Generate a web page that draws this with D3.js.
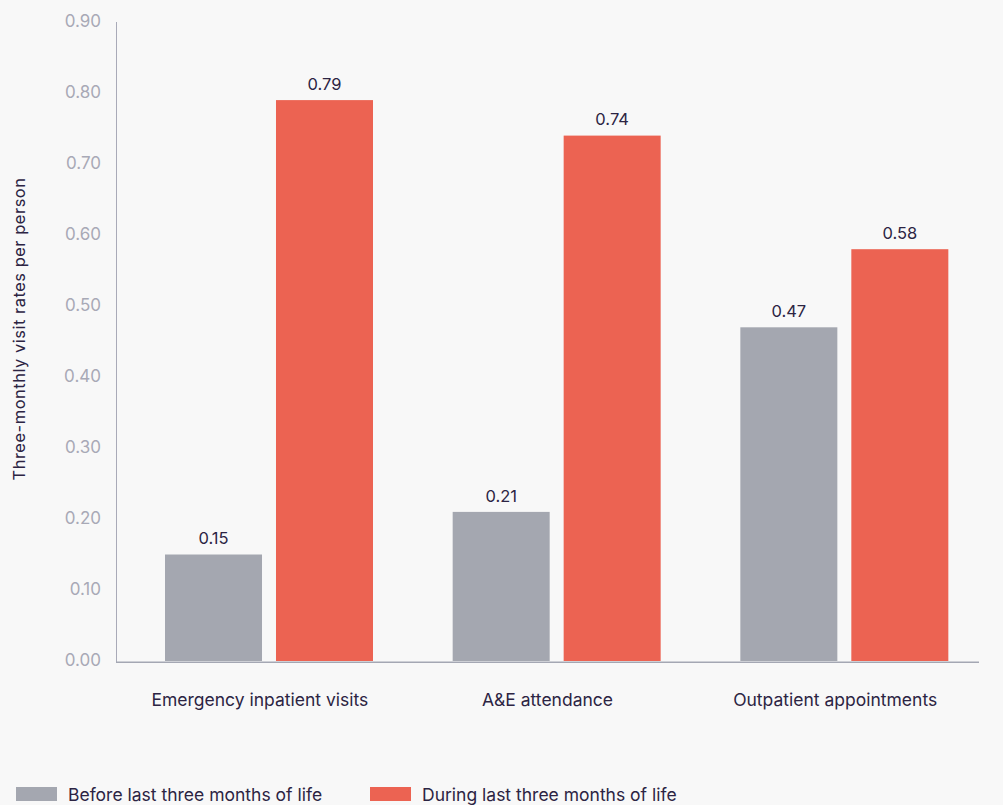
<!DOCTYPE html>
<html>
<head>
<meta charset="utf-8">
<script src="https://cdn.jsdelivr.net/npm/d3@7"></script>
<style>
  html, body { margin: 0; padding: 0; background: #f8f8f8; }
  svg { display: block; font-family: Inter, "Noto Sans", sans-serif; }
</style>
</head>
<body>
<svg id="chart" width="1003" height="805"></svg>
<script>
// Visit categories along the x axis
const categories = ["Emergency inpatient visits", "A&E attendance", "Outpatient appointments"];
// Series names (legend order)
const seriesNames = ["Before last three months of life", "During last three months of life"];
// Three-monthly visit rates per person
const beforeValues = [0.15, 0.21, 0.47];
const duringValues = [0.79, 0.74, 0.58];
// Y axis ticks
const yTicks = [0, 0.1, 0.2, 0.3, 0.4, 0.5, 0.6, 0.7, 0.8, 0.9];
const yTitle = "Three-monthly visit rates per person";

const colors = ["#a4a7b0", "#ec6352"];
const textDark = "#2c2443";
const tickGray = "#a8a9b6";

const rows = categories.map((c, i) => ({ category: c, values: [beforeValues[i], duringValues[i]] }));

const svg = d3.select("#chart");

const x0 = d3.scaleBand().domain(categories).range([116, 979]).paddingInner(0).paddingOuter(0);
const x1 = d3.scaleBand().domain(seriesNames).range([49, 257]).paddingInner(0.126).paddingOuter(0);
const y = d3.scaleLinear().domain([0, 0.9]).range([661, 22]);

// Y axis line
svg.append("line")
  .attr("x1", 116.5).attr("x2", 116.5)
  .attr("y1", y(0.9)).attr("y2", 662)
  .attr("stroke", "#a9aab8").attr("stroke-width", 1);

// Y tick labels
svg.append("g").selectAll("text")
  .data(yTicks)
  .join("text")
  .attr("x", 101)
  .attr("y", d => y(d) - 1)
  .attr("dy", "0.35em")
  .attr("text-anchor", "end")
  .attr("fill", tickGray)
  .attr("font-size", 17)
  .text(d => d3.format(".2f")(d));

// Bars
const groups = svg.append("g").selectAll("g")
  .data(rows)
  .join("g")
  .attr("transform", d => `translate(${x0(d.category)},0)`);

groups.selectAll("rect")
  .data(d => d.values.map((v, i) => ({ key: seriesNames[i], value: v, i })))
  .join("rect")
  .attr("x", d => x1(d.key))
  .attr("y", d => y(d.value))
  .attr("width", x1.bandwidth())
  .attr("height", d => y(0) - y(d.value))
  .attr("fill", d => colors[d.i]);

// Value labels above bars
groups.selectAll("text.value")
  .data(d => d.values.map((v, i) => ({ key: seriesNames[i], value: v })))
  .join("text")
  .attr("class", "value")
  .attr("x", d => x1(d.key) + x1.bandwidth() / 2)
  .attr("y", d => y(d.value) - 16)
  .attr("dy", "0.35em")
  .attr("text-anchor", "middle")
  .attr("fill", textDark)
  .attr("font-size", 16.5)
  .text(d => d3.format(".2f")(d.value));

// Baseline
svg.append("line")
  .attr("x1", 116).attr("x2", 979)
  .attr("y1", 662.2).attr("y2", 662.2)
  .attr("stroke", "#a4a7b3").attr("stroke-width", 1.6);

// Category labels
svg.append("g").selectAll("text")
  .data(categories)
  .join("text")
  .attr("x", d => x0(d) + x0.bandwidth() / 2)
  .attr("y", 700)
  .attr("dy", "0.35em")
  .attr("text-anchor", "middle")
  .attr("fill", textDark)
  .attr("font-size", 17.5)
  .text(d => d);

// Y axis title
svg.append("text")
  .attr("transform", "translate(19,329) rotate(-90)")
  .attr("dy", "0.35em")
  .attr("text-anchor", "middle")
  .attr("fill", textDark)
  .attr("font-size", 16.5)
  .attr("letter-spacing", 0.5)
  .text(yTitle);

// Legend
const legendX = [16, 370];
const legend = svg.append("g").selectAll("g")
  .data(seriesNames)
  .join("g")
  .attr("transform", (d, i) => `translate(${legendX[i]},787)`);
legend.append("rect")
  .attr("width", 41).attr("height", 14)
  .attr("fill", (d, i) => colors[i]);
legend.append("text")
  .attr("x", 52).attr("y", 8)
  .attr("dy", "0.35em")
  .attr("fill", textDark)
  .attr("font-size", 17.5)
  .text(d => d);
</script>
</body>
</html>
